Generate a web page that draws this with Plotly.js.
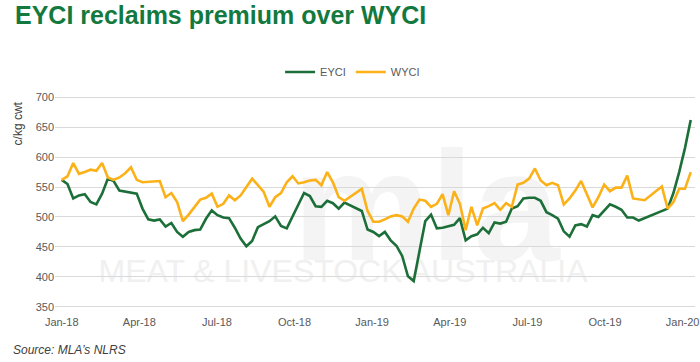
<!DOCTYPE html>
<html>
<head>
<meta charset="utf-8">
<script src="https://cdn.plot.ly/plotly-3.0.1.min.js"></script>
<style>
  html, body { margin: 0; padding: 0; background: #ffffff; }
  #chart { width: 700px; height: 362px; }
</style>
</head>
<body>
<div id="chart"></div>
<script>
// Weekly series, Jan 2018 – early Feb 2020 (c/kg cwt); null = no sale week (holiday break)
const eyci = [
  562, 555, 531, 536, 538, 525, 521, 539, 564, 560,
  544, 542, 540, 539, 514, 496, 494, 496, 484, 490,
  475, 467, 475, 478, 479, 497, 511, 503, 499, 498,
  482, 464, 451, 460, 483, 488, 493, 501, 485, 481,
  500, 521, 540, 535, 518, 517, 527, 523, 514, 524,
  null, null, 510, 479, 475, 468, 475, 461, 452, 435,
  401, 393, 446, 493, 504, 481, 482, 484, 487, 498,
  461, 468, 471, 482, 473, 491, 489, 492, 514, 518,
  531, 532, 532, 527, 508, 503, 497, 476, 467, 486,
  488, 484, 503, 500, 511, 521, 517, 512, 499, 499,
  494, null, null, null, null, 514, 540, 575, 615, 662
];
const wyci = [
  562, 568, 590, 572, 575, 579, 577, 590, 566, 562,
  566, 573, 583, 562, 558, 559, 560, 560, 533, 540,
  525, 493, 504, 517, 529, 532, 539, 517, 522, 536,
  528, 536, 550, 564, 553, 542, 517, 533, 540, 558,
  568, 556, 558, 561, 562, 553, 575, 558, 533, 527,
  null, null, 547, 510, 492, 492, 496, 501, 503, 501,
  492, 514, 529, 527, 517, 522, 538, 503, 543, 522,
  478, 517, 486, 514, 518, 523, 512, 523, 517, 554,
  557, 564, 581, 561, 553, 557, 553, 521, 531, 544,
  560, 539, 516, 533, 554, 543, 549, 549, 569, 531,
  529, 528, null, null, 551, 514, 525, 547, 547, 575
];
const weeks = eyci.map((_, i) => i);           // week number from first sale of 2018
const tickLabels = ["Jan-18", "Apr-18", "Jul-18", "Oct-18", "Jan-19", "Apr-19", "Jul-19", "Oct-19", "Jan-20"];
const tickWeeks  = [0, 13.45, 26.9, 40.35, 53.8, 67.25, 80.7, 94.15, 107.6];
const yTicks = [350, 400, 450, 500, 550, 600, 650, 700];

const FONT = "'Liberation Sans', Arial, sans-serif";

const traces = [
  { x: weeks, y: eyci, name: "EYCI", type: "scatter", mode: "lines",
    connectgaps: true, line: { color: "#1d6f39", width: 2.6 } },
  { x: weeks, y: wyci, name: "WYCI", type: "scatter", mode: "lines",
    connectgaps: true, line: { color: "#fbb117", width: 2.6 } }
];

function watermark(text, x0, x1, y0, y1, size, weight, color) {
  return { type: "rect", xref: "paper", yref: "paper", x0: x0, x1: x1, y0: y0, y1: y1,
           layer: "below", line: { width: 0 }, fillcolor: "rgba(0,0,0,0)",
           label: { text: text, textposition: "middle center",
                    font: { family: FONT, size: size, color: color, weight: weight } } };
}

const layout = {
  width: 700, height: 362,
  paper_bgcolor: "#ffffff", plot_bgcolor: "rgba(0,0,0,0)",
  margin: { l: 55, r: 5, t: 96, b: 54 },
  font: { family: FONT, color: "#595959", size: 11 },
  showlegend: true,
  legend: { orientation: "h", x: 0.465, xanchor: "center", y: 1.113, yanchor: "middle",
            font: { size: 11, color: "#595959" }, itemwidth: 30, bgcolor: "rgba(0,0,0,0)" },
  xaxis: { range: [-1.16, 109.74], tickmode: "array", tickvals: tickWeeks, ticktext: tickLabels,
           showgrid: false, zeroline: false, showline: false, ticks: "",
           ticklabelstandoff: 6, tickfont: { size: 11, color: "#595959" } },
  yaxis: { range: [348, 702], tickmode: "array", tickvals: yTicks,
           showgrid: true, gridcolor: "#d9d9d9", gridwidth: 1, zeroline: false, showline: false,
           ticks: "", tickfont: { size: 11, color: "#595959" } },
  shapes: [
    watermark("mla", 0.28, 0.88, 0.30, 0.80, 155, 700, "#f4f4f4"),
    watermark("MEAT & LIVESTOCK AUSTRALIA", 0.05, 0.85, 0.12, 0.26, 32, 400, "#f0f0f0")
  ],
  annotations: [
    { text: "EYCI reclaims premium over WYCI", xref: "paper", yref: "paper",
      x: -0.0656, y: 1.38, xanchor: "left", yanchor: "middle", showarrow: false,
      font: { family: FONT, size: 25, color: "#13793e", weight: 700 } },
    { text: "c/kg cwt", xref: "paper", yref: "paper", x: -0.058, y: 0.87, textangle: -90,
      xanchor: "center", yanchor: "middle", showarrow: false,
      font: { family: FONT, size: 12, color: "#404040" } },
    { text: "<i>Source: MLA’s NLRS</i>", xref: "paper", yref: "paper", x: -0.068, y: -0.2,
      xanchor: "left", yanchor: "middle", showarrow: false,
      font: { family: FONT, size: 12, color: "#404040" } }
  ]
};

Plotly.newPlot("chart", traces, layout, { staticPlot: true, displayModeBar: false });
</script>
</body>
</html>
